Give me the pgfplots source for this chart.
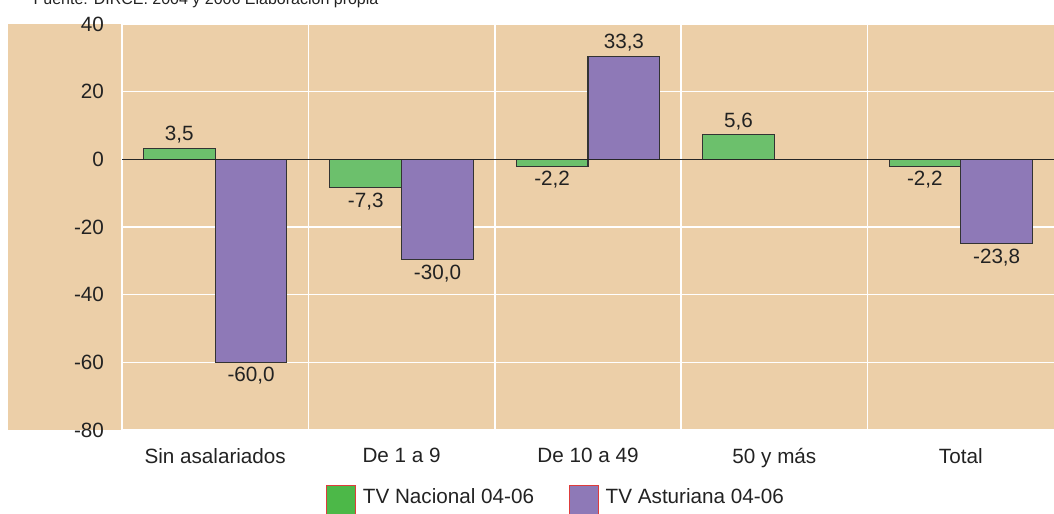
\documentclass[border=0pt]{standalone}
\usepackage{pgfplots}
\pgfplotsset{compat=1.18}
\usepackage{pgfplotstable}
\usepackage{fontspec}
\setmainfont{Liberation Sans}

\definecolor{panel}{RGB}{236,207,168}
\definecolor{barGreen}{RGB}{108,192,108}
\definecolor{barPurple}{RGB}{142,121,183}
\definecolor{legGreen}{RGB}{76,184,72}
\definecolor{legRed}{RGB}{222,60,60}
\definecolor{txt}{RGB}{34,34,34}

% bar heights as drawn, labels as printed
\pgfplotstableread{
x y lab
0 3.2 3,5
1 -8.4 -7,3
2 -2.0 -2,2
3 7.3 5,6
4 -2.0 -2,2
}\nacional
\pgfplotstableread{
x y lab
0 -60.0 -60,0
1 -29.7 -30,0
2 30.5 33,3
4 -25.0 -23,8
}\asturiana

\begin{document}
\begin{tikzpicture}
\fill[panel] (6pt,-322.5pt) rectangle (790.5pt,-18pt);
\node[anchor=base west, font=\fontsize{12}{14}\selectfont, text=txt, inner sep=0pt]
  at (25pt,-3.75pt) {Fuente: DIRCE. 2004 y 2006 Elaboración propia};
\begin{axis}[
  at={(91.5pt,-322.5pt)}, anchor=south west,
  scale only axis, width=699pt, height=304.5pt,
  xmin=-0.5, xmax=4.5, ymin=-80, ymax=40,
  ybar, bar width=0.385,
  axis line style={draw=none},
  major tick length=0pt,
  ytick={-80,-60,...,40},
  ymajorgrids, grid style={white, line width=1.1pt},
  xtick={0,...,4},
  xticklabels={Sin asalariados, De 1 a 9, De 10 a 49, 50 y más, Total},
  extra x ticks={-0.5,0.5,1.5,2.5,3.5},
  extra x tick labels={},
  extra x tick style={xmajorgrids=true, major tick length=0pt},
  /pgf/number format/assume math mode=true,
  ticklabel style={font=\fontsize{15.5}{18}\selectfont, text=txt},
  yticklabel style={xshift=-10pt},
  xticklabel style={yshift=-10pt},
  nodes near coords,
  point meta=explicit symbolic,
  visualization depends on={rawy \as \rawy},
  nodes near coords style={font=\fontsize{15.5}{18}\selectfont, text=txt,
    anchor=\ifdim\rawy pt<0pt north\else south\fi},
  clip=false,
  legend columns=2,
  legend style={at={(axis description cs:0.2185,-0.135)}, anchor=north west,
    draw=none, fill=none, inner sep=0pt,
    font=\fontsize{15.5}{18}\selectfont, text=txt,
    /tikz/every odd column/.append style={column sep=3pt},
    /tikz/every even column/.append style={column sep=24pt}},
]
\addplot[fill=barGreen, draw=black!80, line width=0.8pt, bar shift=-0.1925,
  legend image code/.code={\draw[fill=legGreen, draw=legRed, line width=1pt] (0pt,-13pt) rectangle (21.75pt,8.75pt);}]
  table[x=x, y=y, meta=lab] {\nacional};
\addlegendentry{TV Nacional 04-06}
\addplot[fill=barPurple, draw=black!80, line width=0.8pt, bar shift=0.1925,
  legend image code/.code={\draw[fill=barPurple, draw=legRed, line width=1pt] (0pt,-13pt) rectangle (21.75pt,8.75pt);}]
  table[x=x, y=y, meta=lab] {\asturiana};
\addlegendentry{TV Asturiana 04-06}
\draw[black!85, line width=0.9pt] (axis cs:-0.5,0) -- (axis cs:4.5,0);
\end{axis}
\pgfresetboundingbox
\useasboundingbox (0pt,0pt) rectangle (790.5pt,-385.5pt);
\end{tikzpicture}
\end{document}
